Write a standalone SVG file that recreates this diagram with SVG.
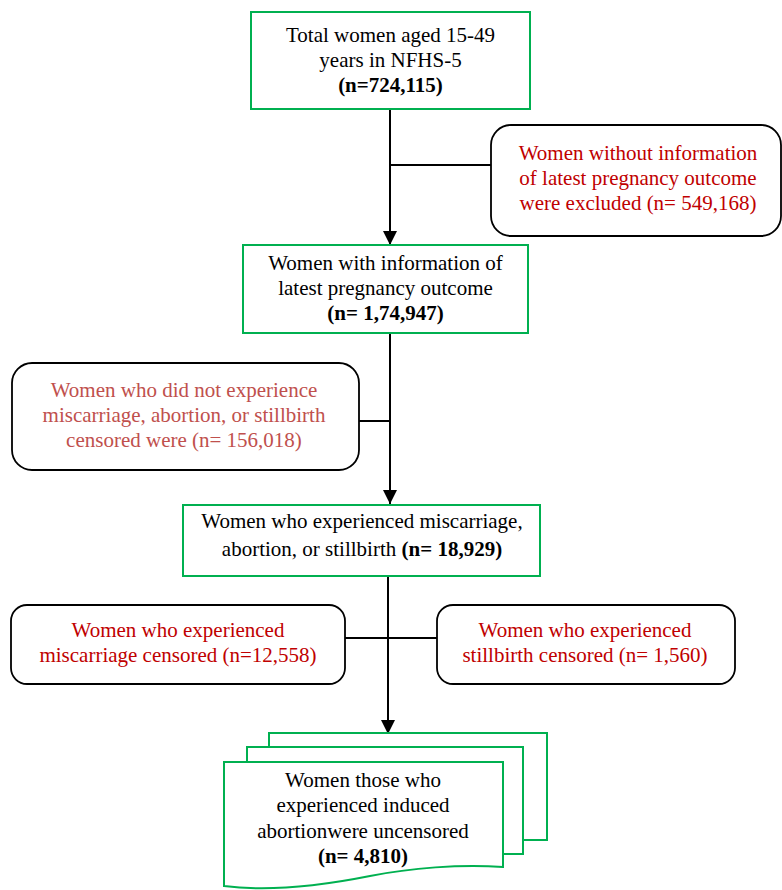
<svg xmlns="http://www.w3.org/2000/svg" width="782" height="890" viewBox="0 0 782 890">
<style>
text{font-family:"Liberation Serif","Times New Roman",serif;font-size:21px;text-anchor:middle;}
.b{font-weight:bold;}
.blk{fill:#000;}
.red{fill:#C00000;}
.pink{fill:#C0504D;}
.gbox{fill:#fff;stroke:#00B050;stroke-width:2;}
.rbox{fill:#fff;stroke:#000;stroke-width:1.8;}
.ln{fill:none;stroke:#000;stroke-width:2;}
</style>
<defs>
<marker id="arr" markerUnits="userSpaceOnUse" markerWidth="14" markerHeight="14" viewBox="0 0 14 14" refX="14" refY="7" orient="auto">
<path d="M0,0 L14,7 L0,14 Z" fill="#000"/>
</marker>
</defs>
<g id="connectors">
<line class="ln" x1="390" y1="110" x2="390" y2="245" marker-end="url(#arr)"/>
<line class="ln" x1="390" y1="165" x2="491" y2="165"/>
<line class="ln" x1="390" y1="333" x2="390" y2="504" marker-end="url(#arr)"/>
<line class="ln" x1="359" y1="421" x2="390" y2="421"/>
<line class="ln" x1="388" y1="576" x2="388" y2="734" marker-end="url(#arr)"/>
<line class="ln" x1="345" y1="638" x2="437" y2="638"/>
</g>
<g id="n1">
<rect class="gbox" x="251" y="12" width="279" height="97"/>
<text class="blk" x="390.5" y="42">Total women aged 15-49</text>
<text class="blk" x="390.5" y="67">years in NFHS-5</text>
<text class="blk b" x="390.5" y="92">(n=724,115)</text>
</g>
<g id="ex1">
<rect class="rbox" x="491" y="125" width="290" height="111" rx="20"/>
<text class="red" x="638" y="160">Women without information</text>
<text class="red" x="638" y="185">of latest pregnancy outcome</text>
<text class="red" x="638" y="210">were excluded (n= 549,168)</text>
</g>
<g id="n2">
<rect class="gbox" x="243" y="245" width="285" height="88"/>
<text class="blk" x="385.5" y="270">Women with information of</text>
<text class="blk" x="385.5" y="295">latest pregnancy outcome</text>
<text class="blk b" x="385.5" y="320">(n= 1,74,947)</text>
</g>
<g id="ex2">
<rect class="rbox" x="12" y="363" width="347" height="107" rx="20"/>
<text class="pink" x="184" y="397">Women who did not experience</text>
<text class="pink" x="184" y="422">miscarriage, abortion, or stillbirth</text>
<text class="pink" x="184" y="447">censored were (n= 156,018)</text>
</g>
<g id="n3">
<rect class="gbox" x="183" y="505" width="357" height="71"/>
<text class="blk" x="362" y="528">Women who experienced miscarriage,</text>
<text class="blk" x="362" y="556">abortion, or stillbirth <tspan class="b">(n= 18,929)</tspan></text>
</g>
<g id="ex3">
<rect class="rbox" x="11" y="605" width="334" height="79" rx="16"/>
<text class="red" x="178" y="637">Women who experienced</text>
<text class="red" x="178" y="662">miscarriage censored (n=12,558)</text>
</g>
<g id="ex4">
<rect class="rbox" x="437" y="605" width="298" height="79" rx="16"/>
<text class="red" x="585" y="637">Women who experienced</text>
<text class="red" x="585" y="662">stillbirth censored (n= 1,560)</text>
</g>
<g id="n4">
<rect class="gbox" x="269" y="733" width="278" height="107"/>
<rect class="gbox" x="247" y="747" width="276" height="107"/>
<path class="gbox" d="M224,762 H503 V867 C460,864 410,868 370,876 C320,886 270,892 224,886 Z"/>
<text class="blk" x="363" y="787">Women those who</text>
<text class="blk" x="363" y="812">experienced induced</text>
<text class="blk" x="363" y="838">abortionwere uncensored</text>
<text class="blk b" x="363" y="863">(n= 4,810)</text>
</g>
</svg>
